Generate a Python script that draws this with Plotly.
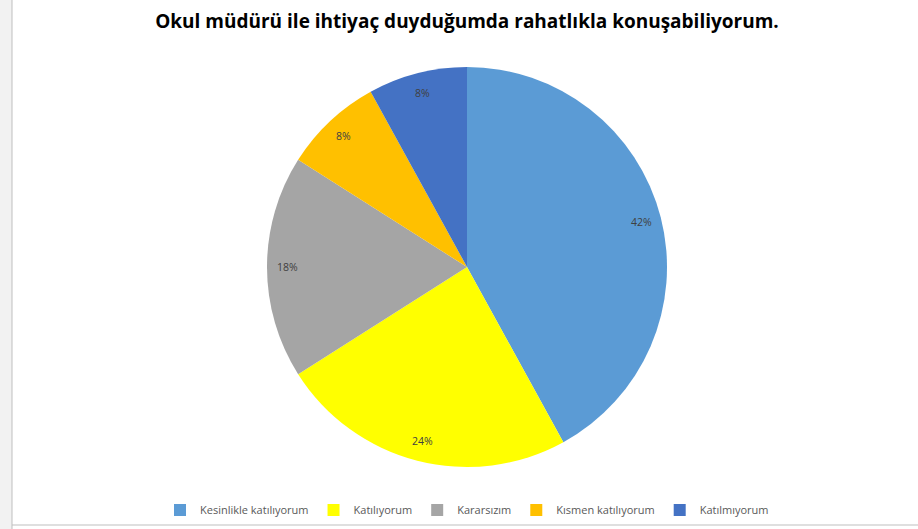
import math
import plotly.graph_objects as go

categories = ["Kesinlikle katılıyorum", "Katılıyorum", "Kararsızım", "Kısmen katılıyorum", "Katılmıyorum"]
values = [42, 24, 18, 8, 8]
colors = ["#5B9BD5", "#FFFF00", "#A5A5A5", "#FFC000", "#4472C4"]
title_text = "Okul müdürü ile ihtiyaç duyduğumda rahatlıkla konuşabiliyorum."

W, H = 918, 529
CX, CY, R = 467, 267, 200  # pie centre and radius in pixels
LABEL_R = 0.9

fig = go.Figure()
fig.add_trace(go.Pie(
    labels=categories,
    values=values,
    marker=dict(colors=colors, line=dict(width=0)),
    sort=False,
    direction="clockwise",
    rotation=0,
    textinfo="none",
    domain=dict(x=[(CX - 300) / W, (CX + 300) / W], y=[1 - (CY + R) / H, 1 - (CY - R) / H]),
    hoverinfo="label+percent",
))

# data labels near the outer edge, at each slice's mid angle
total = sum(values)
annotations = []
cum = 0
for v in values:
    mid = (cum + v / 2) / total * 2 * math.pi
    cum += v
    px = CX + LABEL_R * R * math.sin(mid)
    py = CY - LABEL_R * R * math.cos(mid)
    annotations.append(dict(
        x=px / W, y=1 - py / H, xref="paper", yref="paper",
        text=f"{round(v / total * 100)}%", showarrow=False,
        xanchor="center", yanchor="middle",
        font=dict(family="Open Sans", size=10.5, color="#404040"),
    ))

fig.update_layout(
    width=W, height=H,
    margin=dict(l=0, r=0, t=0, b=0),
    paper_bgcolor="white",
    plot_bgcolor="white",
    title=dict(text="<b>" + title_text + "</b>", x=CX / W, xanchor="center",
               y=1 - 21 / H, yanchor="middle",
               font=dict(family="Open Sans", size=19, color="#000000")),
    showlegend=True,
    legend=dict(orientation="h", x=CX / W, xanchor="center", y=1 - 510 / H, yanchor="middle",
                font=dict(family="Open Sans", size=11, color="#595959"),
                bgcolor="rgba(0,0,0,0)", traceorder="normal"),
    annotations=annotations,
    shapes=[
        dict(type="rect", xref="paper", yref="paper", x0=0, x1=12 / W, y0=0, y1=1,
             fillcolor="#F2F2F2", line=dict(width=0), layer="below"),
        dict(type="line", xref="paper", yref="paper", x0=12 / W, x1=12 / W, y0=0, y1=1,
             line=dict(color="#BFBFBF", width=1)),
        dict(type="line", xref="paper", yref="paper", x0=12 / W, x1=1, y0=1 - 525 / H, y1=1 - 525 / H,
             line=dict(color="#BFBFBF", width=1)),
    ],
)

fig.write_html("out.html", config={"displayModeBar": False},
               post_script="document.body.style.margin='0px';")
